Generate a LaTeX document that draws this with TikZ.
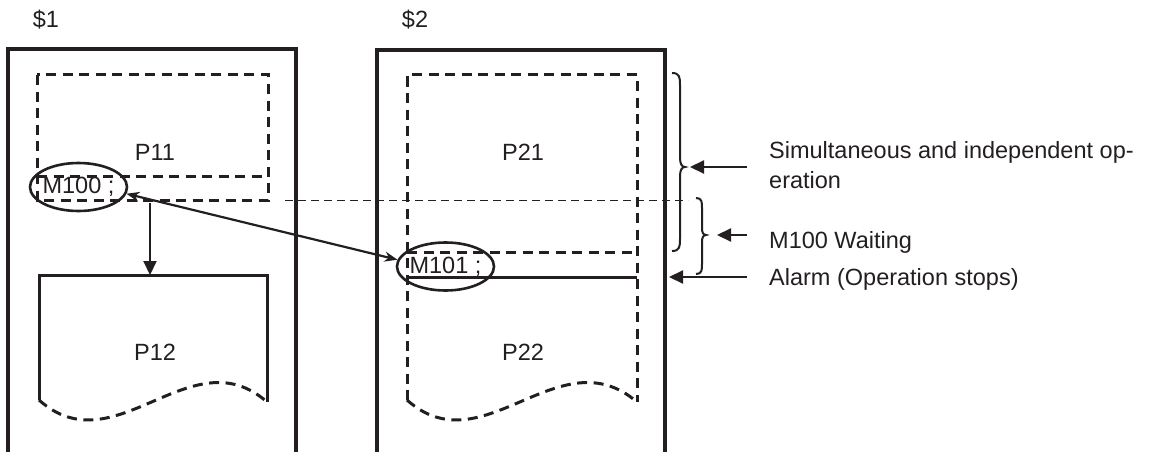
\documentclass[tikz,border=0pt]{standalone}
\usepackage{fontspec}
\setmainfont{Liberation Sans}
\usetikzlibrary{shapes.geometric,arrows.meta}
\definecolor{ink}{HTML}{231F20}
\begin{document}
\begin{tikzpicture}[x=1pt,y=-1pt,
  every node/.style={font=\fontsize{23.5}{30}\selectfont, text=ink, inner sep=0pt},
  frame/.style={draw=ink, line width=3.2pt},
  dbox/.style={draw=ink, line width=3pt, dash pattern=on 10pt off 6.5pt},
  sbox/.style={draw=ink, line width=3pt},
  oval/.style={ellipse, draw=ink, line width=2.6pt, inner xsep=-3pt, minimum width=97pt, minimum height=48pt},
  guide/.style={draw=ink, line width=0.8pt, dash pattern=on 8pt off 5pt},
  bracel/.style={draw=ink, line width=2pt},
  arr/.style={draw=ink, line width=2.2pt, -{Triangle[length=14pt,width=13pt]}},
  dbl/.style={draw=ink, line width=2.2pt, {Stealth[length=13pt,width=10pt]}-{Stealth[length=13pt,width=10pt]}},
]
\useasboundingbox (0,0) rectangle (1151,452);
\clip (0,0) rectangle (1151,452);

% outer frames
\draw[frame] (8,460) -- (8,49) -- (296,49) -- (296,460);
\draw[frame] (377,460) -- (377,50) -- (665,50) -- (665,460);
\node (s1) at (46,20) {\$1};
\node (s2) at (415,20) {\$2};

% column 1
\draw[dbox] (37,75) rectangle (268,200);
\draw[dbox] (37,176.5) -- (268,176.5);
\node (p11) at (155,152) {P11};
\draw[sbox] (39,400) -- (39,275) -- (267,275) -- (267,402);
\draw[dbox] (39,400) .. controls (115,468) and (191,335) .. (267,402);
\node (p12) at (155,352) {P12};

% column 2
\draw[dbox] (407,400) -- (407,75) -- (637,75) -- (637,402);
\draw[dbox] (407,252) -- (637,252);
\draw[sbox] (407,277) -- (637,277);
\draw[dbox] (407,400) .. controls (483,468) and (559,335) .. (637,402);
\node (p21) at (523,152) {P21};
\node (p22) at (523,352) {P22};

% guide line
\coordinate (g1) at (285,200);
\coordinate (g2) at (688,200);
\draw[guide] (g1) -- (g2);

% ovals
\node[oval] (m100) at (78.5,187) {M100 ;};
\node[oval] (m101) at (445.5,266.5) {M101 ;};

% connectors
\coordinate (d1) at (150,203);
\coordinate (d2) at (150,275);
\draw[arr] (d1) -- (d2);
\draw[dbl] (m100.-8) -- (m101.172);

% braces
\draw[bracel] (672,73) .. controls (680,73) and (680,78) .. (680,85) -- (680,158)
  .. controls (680,164) and (682,167) .. (685,167)
  .. controls (682,167) and (680,170) .. (680,176) -- (680,239)
  .. controls (680,246) and (680,251) .. (672,251);
\draw[bracel] (696,198) .. controls (702,198) and (702,202) .. (702,208) -- (702,228)
  .. controls (702,232) and (703,235) .. (706,235)
  .. controls (703,235) and (702,238) .. (702,242) -- (702,264)
  .. controls (702,270) and (702,274) .. (696,274);

% labels
\node[anchor=base west, align=left] (l1) at (769,188.3) {Simultaneous and independent op-\\eration};
\node[anchor=base west] (l2) at (769,248.5) {M100 Waiting};
\node[anchor=base west] (l3) at (769,285.5) {Alarm (Operation stops)};

\coordinate (a1) at (747,167);
\coordinate (b1) at (690,167);
\coordinate (a2) at (747,235);
\coordinate (b2) at (717,235);
\coordinate (a3) at (747,277);
\coordinate (b3) at (669,277);
\draw[arr] (a1) -- (b1);
\draw[arr] (a2) -- (b2);
\draw[arr] (a3) -- (b3);
\end{tikzpicture}
\end{document}
